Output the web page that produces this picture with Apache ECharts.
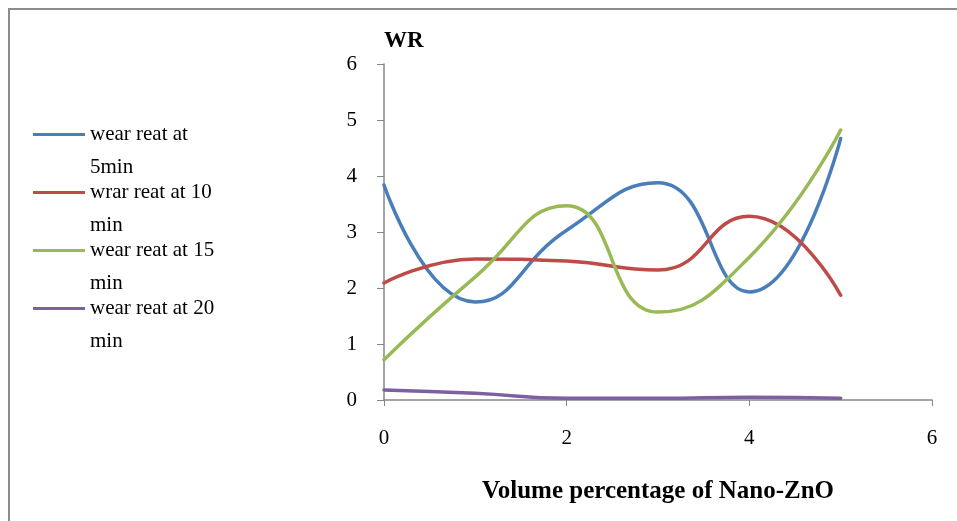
<!DOCTYPE html>
<html>
<head>
<meta charset="utf-8">
<script src="https://cdn.jsdelivr.net/npm/echarts@6/dist/echarts.min.js"></script>
<style>html,body{margin:0;padding:0;background:#fff}#c{width:957px;height:521px}</style>
</head>
<body>
<div id="c"></div>
<script>
const xValues = [0, 1, 2, 3, 4, 5];
const seriesNames = ['wear reat at 5min', 'wrar reat at 10 min', 'wear reat at 15 min', 'wear reat at 20 min'];
const legendLabels = ['wear reat at\n5min', 'wrar reat at 10\nmin', 'wear reat at 15\nmin', 'wear reat at 20\nmin'];
const wr5 = [3.84, 1.75, 3.03, 3.88, 1.93, 4.67];
const wr10 = [2.09, 2.52, 2.48, 2.32, 3.28, 1.87];
const wr15 = [0.72, 2.2, 3.47, 1.57, 2.55, 4.82];
const wr20 = [0.18, 0.12, 0.03, 0.03, 0.05, 0.03];
const xTicks = [0, 2, 4, 6];
const yTicks = [0, 1, 2, 3, 4, 5, 6];
const colors = ['#4A7EBB', '#BE4B48', '#98B954', '#7D60A0'];

const allData = [wr5, wr10, wr15, wr20];
const FONT = '"Liberation Serif", "DejaVu Serif", serif';

const chart = echarts.init(document.getElementById('c'), null, {renderer: 'canvas'});
chart.setOption({
  animation: false,
  backgroundColor: '#fff',
  graphic: [{
    type: 'rect',
    shape: {x: 9, y: 9, width: 1000, height: 600},
    style: {fill: 'none', stroke: '#8c8c8c', lineWidth: 2},
    silent: true, z: -1
  }],
  grid: {left: 384, right: 25, top: 64, bottom: 121},
  legend: {
    orient: 'vertical',
    left: 28,
    top: 80,
    icon: 'rect',
    itemWidth: 52,
    itemHeight: 3,
    itemGap: -41,
    data: seriesNames,
    formatter: function (name) { return '\n' + legendLabels[seriesNames.indexOf(name)]; },
    textStyle: {fontFamily: FONT, fontSize: 21, color: '#000', lineHeight: 33}
  },
  xAxis: {
    type: 'value',
    min: 0, max: 6, interval: 2,
    name: 'Volume percentage of Nano-ZnO',
    nameLocation: 'middle',
    nameGap: 79,
    nameTextStyle: {fontFamily: FONT, fontSize: 25, fontWeight: 'bold', color: '#000'},
    axisLine: {lineStyle: {color: '#868686', width: 1.5}},
    axisTick: {show: true, length: 6, lineStyle: {color: '#868686'}},
    axisLabel: {fontFamily: FONT, fontSize: 21, color: '#000', margin: 28,
      formatter: function (v) { return xTicks.indexOf(v) >= 0 ? String(v) : ''; }},
    splitLine: {show: false}
  },
  yAxis: {
    type: 'value',
    min: 0, max: 6, interval: 1,
    name: 'WR',
    nameLocation: 'end',
    nameGap: 11,
    nameTextStyle: {fontFamily: FONT, fontSize: 23, fontWeight: 'bold', color: '#000', align: 'left'},
    axisLine: {show: true, lineStyle: {color: '#868686', width: 1.5}},
    axisTick: {show: true, length: 7, lineStyle: {color: '#868686'}},
    axisLabel: {fontFamily: FONT, fontSize: 21, color: '#000', margin: 27,
      formatter: function (v) { return yTicks.indexOf(v) >= 0 ? String(v) : ''; }},
    splitLine: {show: false}
  },
  series: seriesNames.map(function (n, i) {
    return {
      name: n,
      type: 'line',
      smooth: 0.5,
      symbol: 'none',
      color: colors[i],
      lineStyle: {width: 3.5, color: colors[i], cap: 'round'},
      data: xValues.map(function (x, j) { return [x, allData[i][j]]; })
    };
  })
});
</script>
</body>
</html>
